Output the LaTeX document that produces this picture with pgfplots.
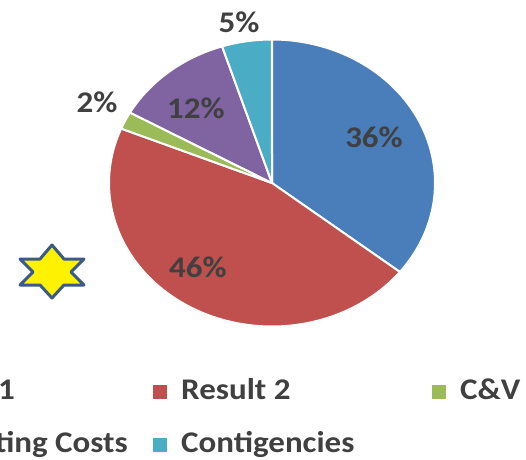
\documentclass[border=0pt]{standalone}
\usepackage{pgfplots}
\pgfplotsset{compat=1.18}
\usepackage{graphicx}
\usepackage{fontspec}
\setmainfont{Carlito}
\definecolor{sBlue}{HTML}{4A7EBB}
\definecolor{sRed}{HTML}{C0504D}
\definecolor{sGreen}{HTML}{9BBB59}
\definecolor{sPurple}{HTML}{8064A2}
\definecolor{sCyan}{HTML}{4BACC6}
\definecolor{txt}{HTML}{404040}
\definecolor{starEdge}{HTML}{3A5A8A}
\tikzset{lab/.style={font=\fontsize{30}{36}\selectfont\bfseries, text=txt, inner sep=0pt}}
\newcommand{\sq}[1]{\textcolor{#1}{\rule{14pt}{14pt}}\hspace{14pt}}
\newcommand{\wide}[1]{\scalebox{1.1}[1]{#1}}
% slice values (percent)
\def\vA{36}\def\vB{46}\def\vC{2}\def\vD{12}\def\vE{5}
\begin{document}%
\begin{tikzpicture}
\pgfmathsetmacro\tot{\vA+\vB+\vC+\vD+\vE}
\pgfmathsetmacro\aA{90}
\pgfmathsetmacro\aB{\aA-(\vA/\tot)*360}
\pgfmathsetmacro\aC{\aB-(\vB/\tot)*360}
\pgfmathsetmacro\aD{\aC-(\vC/\tot)*360}
\pgfmathsetmacro\aE{\aD-(\vD/\tot)*360}
\pgfmathsetmacro\aF{\aE-(\vE/\tot)*360}
\clip (0,0) rectangle (526pt,459pt);
\begin{axis}[overlay, at={(0,0)}, anchor=south west, width=526pt, height=459pt,
  scale only axis, xmin=0, xmax=526, ymin=0, ymax=459, hide axis, clip=false,
  xtick=\empty, ytick=\empty]
\pgfplotsset{slice/.style={draw=white, line width=2pt, line join=round, samples=90}}
\addplot[slice, fill=sBlue, domain=\aB:\aA] ({272+163*cos(x)},{276+143.5*sin(x)}) -- (axis cs:272,276) -- cycle;
\addplot[slice, fill=sRed, domain=\aC:\aB] ({272+163*cos(x)},{276+143.5*sin(x)}) -- (axis cs:272,276) -- cycle;
\addplot[slice, fill=sGreen, domain=\aD:\aC] ({272+163*cos(x)},{276+143.5*sin(x)}) -- (axis cs:272,276) -- cycle;
\addplot[slice, fill=sPurple, domain=\aE:\aD] ({272+163*cos(x)},{276+143.5*sin(x)}) -- (axis cs:272,276) -- cycle;
\addplot[slice, fill=sCyan, domain=\aF:\aE] ({272+163*cos(x)},{276+143.5*sin(x)}) -- (axis cs:272,276) -- cycle;
% percentage labels
\node[lab] at (axis cs:374,322) {\wide{36\%}};
\node[lab] at (axis cs:198,192) {\wide{46\%}};
\node[lab] at (axis cs:196,351) {\wide{12\%}};
\node[lab] at (axis cs:97,357) {\wide{2\%}};
\node[lab] at (axis cs:239,437) {\wide{5\%}};
% star
\draw[fill=yellow, draw=starEdge, line width=3pt, line join=round]
  (axis cs:52,214) -- (axis cs:64,200) -- (axis cs:84,200) -- (axis cs:71,187)
  -- (axis cs:84,174) -- (axis cs:64,174) -- (axis cs:52,161) -- (axis cs:40,174)
  -- (axis cs:20,174) -- (axis cs:33,187) -- (axis cs:20,200) -- (axis cs:40,200) -- cycle;
% legend
\node[lab, anchor=base east] at (axis cs:15,60) {\sq{sBlue}\wide{Result 1}};
\node[lab, anchor=base west] at (axis cs:153,60) {\sq{sRed}\wide{Result 2}};
\node[lab, anchor=base west] at (axis cs:432,60) {\sq{sGreen}\wide{C\&V}};
\node[lab, anchor=base east] at (axis cs:128,7) {\sq{sPurple}\wide{Operating Costs}};
\node[lab, anchor=base west] at (axis cs:153,7) {\sq{sCyan}\wide{Contigencies}};
\end{axis}
\end{tikzpicture}%
\end{document}
